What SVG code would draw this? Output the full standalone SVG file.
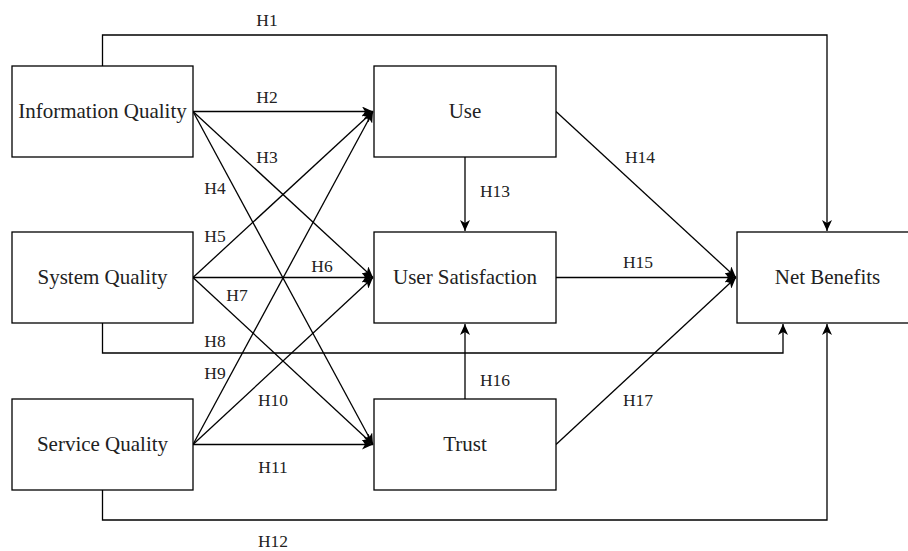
<svg xmlns="http://www.w3.org/2000/svg" width="908" height="551" viewBox="0 0 908 551">
<style>
.box{fill:#fff;stroke:#000;stroke-width:1.3}
.nt{font-family:'Liberation Serif','Times New Roman','DejaVu Serif',serif;font-size:21px;fill:#222;text-anchor:middle}
.lb{font-family:'Liberation Serif','Times New Roman','DejaVu Serif',serif;font-size:17.5px;fill:#222;text-anchor:middle}
.c{fill:none;stroke:#000;stroke-width:1.3}
</style>
<defs>
<marker id="ah" markerWidth="12" markerHeight="10" refX="11" refY="5" orient="auto" markerUnits="userSpaceOnUse">
<path d="M0,0 L11,5 L0,10 L3,5 z" fill="#000"/>
</marker>
</defs>
<rect width="908" height="551" fill="#fff"/>
<g id="connectors">
<path class="c" d="M102.5,66 V35 H827 V231" marker-end="url(#ah)"/>
<path class="c" d="M193,111.5 H373" marker-end="url(#ah)"/>
<path class="c" d="M193,111.5 L373,277.5" marker-end="url(#ah)"/>
<path class="c" d="M193,111.5 L373,444.5" marker-end="url(#ah)"/>
<path class="c" d="M193,277.5 L373,111.5" marker-end="url(#ah)"/>
<path class="c" d="M193,277.5 H373" marker-end="url(#ah)"/>
<path class="c" d="M193,277.5 L373,444.5" marker-end="url(#ah)"/>
<path class="c" d="M193,444.5 L373,111.5" marker-end="url(#ah)"/>
<path class="c" d="M193,444.5 L373,277.5" marker-end="url(#ah)"/>
<path class="c" d="M193,444.5 H373" marker-end="url(#ah)"/>
<path class="c" d="M102.5,323 V353 H783 V324" marker-end="url(#ah)"/>
<path class="c" d="M102.5,490 V520 H827 V324" marker-end="url(#ah)"/>
<path class="c" d="M465,157 V231" marker-end="url(#ah)"/>
<path class="c" d="M556,111.5 L736,277.5" marker-end="url(#ah)"/>
<path class="c" d="M556,277.5 H736" marker-end="url(#ah)"/>
<path class="c" d="M465,399 V324" marker-end="url(#ah)"/>
<path class="c" d="M556,444.5 L736,277.5" marker-end="url(#ah)"/>
<g class="labels">
<text class="lb" x="267" y="26">H1</text>
<text class="lb" x="267" y="103">H2</text>
<text class="lb" x="267" y="163">H3</text>
<text class="lb" x="215" y="194">H4</text>
<text class="lb" x="215" y="242">H5</text>
<text class="lb" x="322" y="272">H6</text>
<text class="lb" x="237" y="301">H7</text>
<text class="lb" x="215" y="347">H8</text>
<text class="lb" x="215" y="379">H9</text>
<text class="lb" x="273" y="406">H10</text>
<text class="lb" x="273" y="473">H11</text>
<text class="lb" x="273" y="547">H12</text>
<text class="lb" x="495" y="197">H13</text>
<text class="lb" x="640" y="163">H14</text>
<text class="lb" x="638" y="268">H15</text>
<text class="lb" x="495" y="386">H16</text>
<text class="lb" x="638" y="406">H17</text>
</g>
</g>
<g id="info-quality"><rect class="box" x="12" y="66" width="181" height="91"/><text class="nt" x="102.5" y="118">Information Quality</text></g>
<g id="system-quality"><rect class="box" x="12" y="232" width="181" height="91"/><text class="nt" x="102.5" y="284">System Quality</text></g>
<g id="service-quality"><rect class="box" x="12" y="399" width="181" height="91"/><text class="nt" x="102.5" y="451">Service Quality</text></g>
<g id="use"><rect class="box" x="374" y="66" width="182" height="91"/><text class="nt" x="465" y="118">Use</text></g>
<g id="user-satisfaction"><rect class="box" x="374" y="232" width="182" height="91"/><text class="nt" x="465" y="284">User Satisfaction</text></g>
<g id="trust"><rect class="box" x="374" y="399" width="182" height="91"/><text class="nt" x="465" y="451">Trust</text></g>
<g id="net-benefits"><rect class="box" x="737" y="232" width="181" height="91"/><text class="nt" x="827.5" y="284">Net Benefits</text></g>
</svg>
